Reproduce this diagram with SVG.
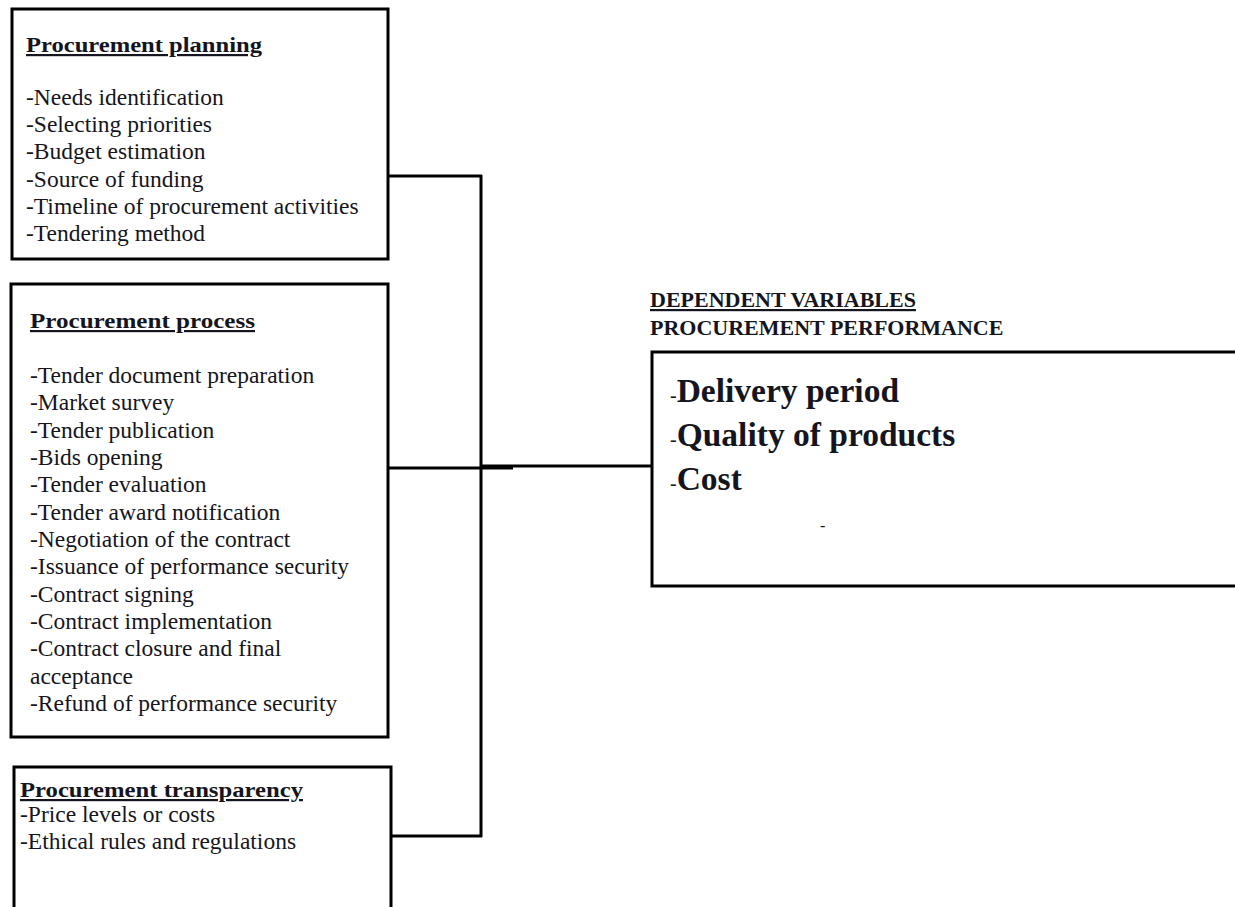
<svg xmlns="http://www.w3.org/2000/svg" width="1235" height="907" viewBox="0 0 1235 907">
<style>
.box{fill:#fff;stroke:#000;stroke-width:3}
.t{font-family:"Liberation Serif","Times New Roman",serif;fill:#151520}
.h{font-weight:bold;font-size:22px;text-decoration:underline}
.i{font-size:23.5px}
.c{stroke:#000;stroke-width:3;fill:none}
.big{font-weight:bold;font-size:33.5px}
.cap{font-weight:bold;font-size:22px}
</style>
<rect width="1235" height="907" fill="#fff"/>
<g id="connectors">
<path class="c" d="M388 176H482M481 175V837M388 836H482M388 468H513M480 466H657"/>
</g>
<g id="planning">
<rect class="box" x="12" y="9" width="376" height="250"/>
<text class="t h" x="26" y="52" textLength="236" lengthAdjust="spacingAndGlyphs">Procurement planning</text>
<text class="t i" x="26" y="105">-Needs identification</text>
<text class="t i" x="26" y="132">-Selecting priorities</text>
<text class="t i" x="26" y="159">-Budget estimation</text>
<text class="t i" x="26" y="187">-Source of funding</text>
<text class="t i" x="26" y="214">-Timeline of procurement activities</text>
<text class="t i" x="26" y="241">-Tendering method</text>
</g>
<g id="process">
<rect class="box" x="11" y="284" width="377" height="453"/>
<text class="t h" x="30" y="328" textLength="225" lengthAdjust="spacingAndGlyphs">Procurement process</text>
<text class="t i" x="30" y="383">-Tender document preparation</text>
<text class="t i" x="30" y="410">-Market survey</text>
<text class="t i" x="30" y="438">-Tender publication</text>
<text class="t i" x="30" y="465">-Bids opening</text>
<text class="t i" x="30" y="492">-Tender evaluation</text>
<text class="t i" x="30" y="520">-Tender award notification</text>
<text class="t i" x="30" y="547">-Negotiation of the contract</text>
<text class="t i" x="30" y="574">-Issuance of performance security</text>
<text class="t i" x="30" y="602">-Contract signing</text>
<text class="t i" x="30" y="629">-Contract implementation</text>
<text class="t i" x="30" y="656">-Contract closure and final</text>
<text class="t i" x="30" y="684">acceptance</text>
<text class="t i" x="30" y="711">-Refund of performance security</text>
</g>
<g id="transparency">
<rect class="box" x="14" y="767" width="377" height="160"/>
<text class="t h" x="20" y="797" textLength="283" lengthAdjust="spacingAndGlyphs">Procurement transparency</text>
<text class="t i" x="20" y="822">-Price levels or costs</text>
<text class="t i" x="20" y="849">-Ethical rules and regulations</text>
</g>
<g id="performance">
<text class="t cap" x="650" y="307" text-decoration="underline">DEPENDENT VARIABLES</text>
<text class="t cap" x="650" y="335">PROCUREMENT PERFORMANCE</text>
<rect class="box" x="652" y="352" width="600" height="234"/>
<text class="t" x="670" y="402"><tspan font-size="20px">-</tspan><tspan class="big">Delivery period</tspan></text>
<text class="t" x="670" y="446"><tspan font-size="20px">-</tspan><tspan class="big">Quality of products</tspan></text>
<text class="t" x="670" y="490"><tspan font-size="20px">-</tspan><tspan class="big">Cost</tspan></text>
<text class="t" x="820" y="531" font-size="16px" fill="#555">-</text>
</g>
</svg>
